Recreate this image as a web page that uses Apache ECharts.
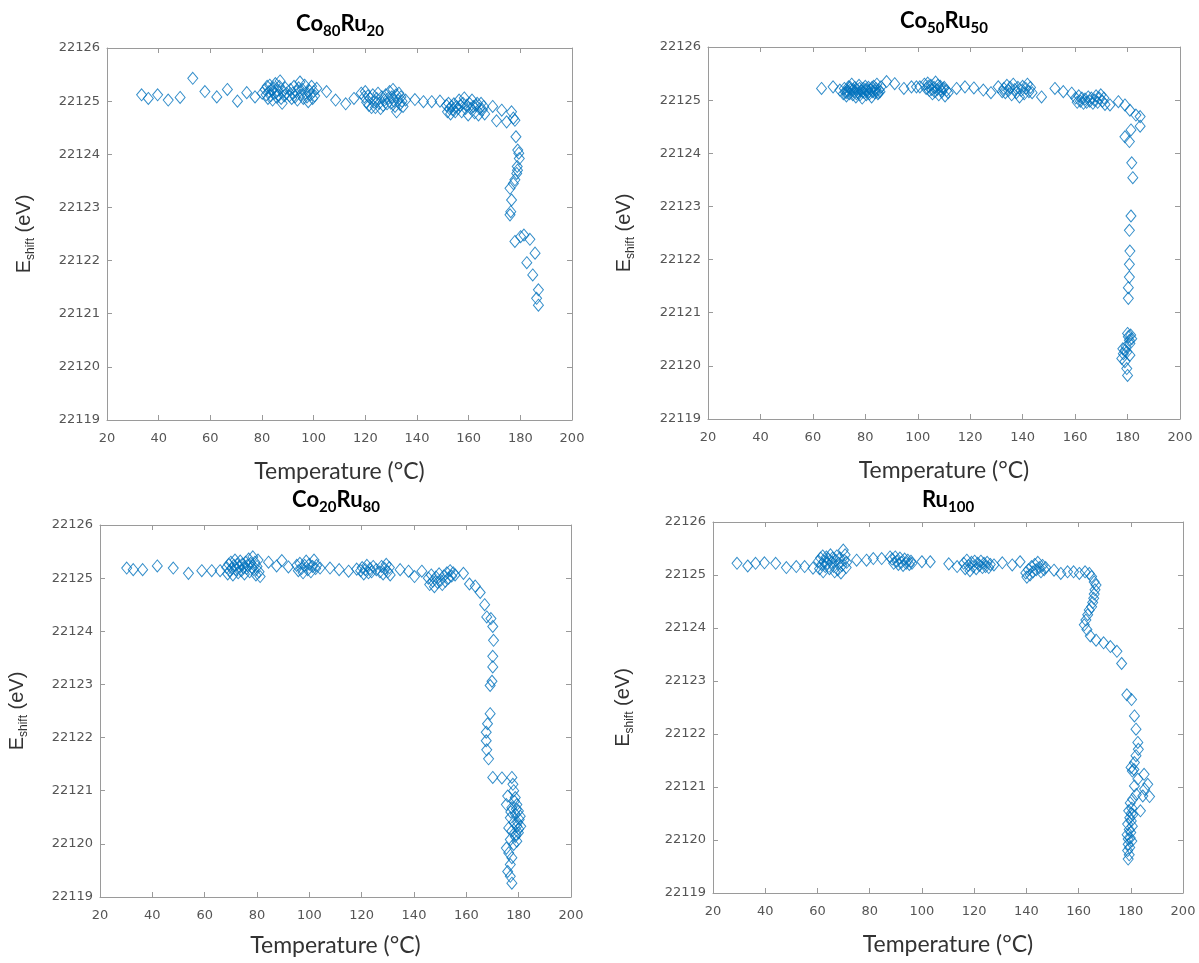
<!DOCTYPE html>
<html>
<head>
<meta charset="utf-8">
<script src="https://cdn.jsdelivr.net/npm/echarts@6/dist/echarts.min.js"></script>
<style>
  html, body { margin: 0; padding: 0; background: #ffffff; }
  #chart { width: 1199px; height: 963px; }
</style>
</head>
<body>
<div id="chart"></div>
<script>
// Axis ranges shared by all four panels
const tempTicks = [20, 40, 60, 80, 100, 120, 140, 160, 180, 200];
const energyTicks = [22119, 22120, 22121, 22122, 22123, 22124, 22125, 22126];

// Edge shift vs. temperature, [T (°C), E_shift (eV)]
const co80ru20 = [
  [33.4,22125.12],[36.0,22125.05],[39.6,22125.12],[43.7,22125.02],[48.3,22125.07],[53.2,22125.43],[57.9,22125.18],[62.5,22125.08],[66.6,22125.22],[70.5,22125.00],[74.1,22125.16],[77.3,22125.08],[80.1,22125.15],
  [81.2,22125.22],[81.6,22125.12],[82.0,22125.28],[82.3,22125.05],[82.7,22125.18],[83.0,22125.30],[83.4,22125.10],[83.8,22125.22],[84.1,22125.02],[84.5,22125.25],[84.9,22125.15],[85.2,22125.33],[85.6,22125.08],[86.0,22125.20],[86.3,22125.12],[86.7,22125.28],[87.0,22125.38],[87.4,22125.05],[87.8,22124.96],[88.2,22125.18],[88.6,22125.10],[89.0,22125.25],[89.4,22125.15],
  [90.6,22125.10],[91.0,22125.22],[91.5,22125.05],[91.9,22125.15],[92.4,22125.28],[92.8,22125.08],[93.3,22125.18],[93.7,22125.02],[94.2,22125.25],[94.7,22125.36],[95.1,22125.12],[95.6,22125.22],[96.0,22125.05],[96.5,22125.30],[96.9,22125.15],[97.4,22125.08],[97.9,22124.99],[98.3,22125.20],[98.8,22125.12],[99.2,22125.28],[99.6,22125.05],[100.0,22125.18],[100.4,22125.10],[101.2,22125.24],
  [105.0,22125.18],[108.5,22125.02],[112.4,22124.95],[115.6,22125.05],[118.4,22125.15],
  [119.6,22125.08],[120.0,22125.18],[120.5,22124.98],[121.0,22125.10],[121.4,22124.92],[121.9,22125.05],[122.4,22124.88],[122.9,22125.12],[123.4,22124.98],[123.9,22124.88],[124.4,22125.05],[124.9,22125.15],[125.4,22124.96],[125.9,22124.86],[126.4,22125.08],[126.9,22124.92],[127.4,22125.02],[127.9,22125.12],[128.4,22124.95],[128.9,22125.05],[129.4,22125.18],[129.9,22124.96],[130.3,22125.08],[130.7,22125.22],[131.1,22125.00],[131.5,22124.90],[131.9,22125.12],[132.1,22124.80],[132.6,22125.02],[133.0,22125.15],[133.4,22124.94],[133.8,22125.08],[134.2,22125.00],[134.6,22124.90],
  [135.6,22125.02],[139.2,22125.03],[142.5,22124.99],[145.7,22124.99],[148.9,22125.00],
  [151.4,22124.92],[151.8,22124.80],[152.2,22124.96],[152.6,22124.86],[153.0,22124.76],[153.4,22124.90],[153.8,22124.84],[154.3,22124.95],[154.8,22124.80],[155.3,22124.90],[155.8,22124.86],[156.3,22125.02],[156.8,22124.92],[157.3,22124.80],[157.8,22124.96],[158.3,22125.06],[158.8,22124.86],[159.3,22124.92],[159.8,22124.74],[160.3,22124.96],[160.8,22124.86],[161.3,22125.02],[161.8,22124.90],[162.3,22124.78],[162.8,22124.92],[163.3,22124.96],[163.8,22124.74],[164.3,22124.86],[164.8,22124.96],[165.3,22124.84],[165.8,22124.90],[166.2,22124.76],
  [169.3,22124.90],[170.8,22124.63],[172.8,22124.83],[174.7,22124.61],[176.6,22124.80],[177.3,22124.68],[177.9,22124.64],[178.3,22124.33],[179.0,22124.08],[179.4,22124.02],[179.6,22123.92],[178.8,22123.77],[178.9,22123.70],[178.6,22123.64],[177.9,22123.52],[177.3,22123.45],[176.0,22123.36],[176.6,22123.14],[176.3,22122.92],[176.0,22122.86],[177.9,22122.36],[180.1,22122.45],[181.4,22122.48],[183.7,22122.40],[182.5,22121.96],[185.7,22122.14],[184.8,22121.73],[187.0,22121.45],[186.3,22121.29],[187.0,22121.16]
];

const co50ru50 = [
  [63.3,22125.22],[67.7,22125.25],[70.3,22125.19],
  [71.6,22125.12],[72.0,22125.22],[72.4,22125.15],[72.8,22125.08],[73.2,22125.18],[73.6,22125.25],[74.0,22125.12],[74.4,22125.20],[74.8,22125.30],[75.2,22125.10],[75.6,22125.16],[76.0,22125.24],[76.4,22125.06],[76.8,22125.20],[77.2,22125.14],[77.6,22125.28],[78.0,22125.10],[78.4,22125.18],[78.8,22125.04],[79.2,22125.22],[79.6,22125.14],[80.0,22125.26],[80.4,22125.10],[80.8,22125.18],[81.2,22125.24],[81.6,22125.12],[82.0,22125.20],[82.4,22125.06],[82.8,22125.16],[83.2,22125.26],[83.6,22125.14],[84.0,22125.22],[84.4,22125.30],[84.8,22125.12],[85.2,22125.20],[85.6,22125.16],[86.0,22125.25],
  [73.0,22125.14],[74.2,22125.24],[75.4,22125.20],[76.6,22125.12],[77.8,22125.22],[79.0,22125.16],[80.2,22125.20],[81.4,22125.16],[82.6,22125.24],[83.8,22125.18],[85.0,22125.14],
  [88.1,22125.35],[91.2,22125.31],[94.7,22125.22],[97.6,22125.25],[99.5,22125.25],[100.8,22125.25],
  [102.5,22125.30],[103.2,22125.22],[103.8,22125.32],[104.4,22125.18],[105.0,22125.28],[105.6,22125.12],[106.2,22125.24],[106.8,22125.34],[107.4,22125.20],[108.0,22125.10],[108.6,22125.26],[109.2,22125.16],[109.8,22125.22],[110.4,22125.08],[111.0,22125.18],[111.6,22125.14],
  [104.0,22125.26],[105.3,22125.20],[106.5,22125.16],[107.7,22125.28],[108.9,22125.20],[110.1,22125.24],
  [114.8,22125.22],[118.0,22125.25],[121.4,22125.23],[125.0,22125.19],[127.9,22125.14],[130.7,22125.25],
  [132.2,22125.16],[132.8,22125.22],[133.4,22125.14],[134.0,22125.28],[134.6,22125.18],[135.2,22125.24],[135.8,22125.10],[136.4,22125.30],[137.0,22125.20],[137.6,22125.14],[138.2,22125.24],[138.8,22125.06],[139.4,22125.18],[140.0,22125.26],[140.6,22125.12],[141.2,22125.22],[141.8,22125.30],[142.4,22125.16],[143.0,22125.24],[143.6,22125.14],
  [147.2,22125.06],[152.3,22125.22],[155.5,22125.16],[158.7,22125.13],
  [160.2,22125.04],[160.8,22124.96],[161.4,22125.08],[162.0,22124.98],[162.6,22125.04],[163.2,22124.94],[163.8,22125.02],[164.4,22124.96],[165.0,22125.06],[165.6,22124.98],[166.2,22125.04],[166.8,22124.94],[167.4,22125.00],[168.0,22125.08],[168.6,22124.96],[169.2,22125.04],[169.8,22125.10],[170.4,22124.98],[171.0,22125.04],[171.4,22124.92],
  [173.3,22124.91],[176.5,22124.97],[179.0,22124.91],[180.9,22124.81],[183.2,22124.72],[184.8,22124.69],[184.8,22124.51],[181.3,22124.44],[179.0,22124.31],[180.7,22124.22],[181.6,22123.82],[182.0,22123.54],[181.3,22122.82],[180.7,22122.55],[180.9,22122.16],[180.7,22121.91],[180.7,22121.67],[180.3,22121.47],[180.3,22121.27],
  [180.0,22120.61],[181.2,22120.58],[180.3,22120.55],[181.6,22120.51],[180.7,22120.48],[180.9,22120.42],[179.4,22120.36],[178.2,22120.32],[179.0,22120.29],[179.7,22120.26],[178.4,22120.23],[180.9,22120.20],[177.8,22120.14],[179.0,22120.08],[179.7,22119.95],[180.0,22119.82]
];

const co20ru80 = [
  [30.2,22125.19],[32.7,22125.16],[36.3,22125.16],[41.9,22125.23],[48.0,22125.19],[53.8,22125.09],[58.9,22125.14],[62.7,22125.14],[65.9,22125.14],
  [68.4,22125.20],[68.8,22125.08],[69.2,22125.26],[69.6,22125.14],[70.0,22125.30],[70.4,22125.18],[70.8,22125.06],[71.2,22125.24],[71.6,22125.34],[72.0,22125.16],[72.4,22125.26],[72.8,22125.10],[73.2,22125.22],[73.6,22125.32],[74.0,22125.14],[74.4,22125.26],[74.8,22125.20],[75.2,22125.08],[75.6,22125.30],[76.0,22125.18],[76.4,22125.24],[76.8,22125.36],[77.2,22125.12],[77.6,22125.28],[78.0,22125.20],[78.4,22125.40],[78.8,22125.16],[79.2,22125.30],[79.6,22125.06],[80.0,22125.22],[80.4,22125.34],[80.8,22125.12],[81.2,22125.03],
  [84.4,22125.30],[87.5,22125.23],[89.5,22125.33],[92.0,22125.21],
  [95.2,22125.24],[95.8,22125.14],[96.4,22125.28],[97.0,22125.18],[97.6,22125.10],[98.2,22125.24],[98.8,22125.32],[99.4,22125.16],[100.0,22125.26],[100.6,22125.12],[101.2,22125.22],[101.8,22125.34],[102.4,22125.18],[102.8,22125.24],
  [104.1,22125.19],[107.9,22125.19],[111.4,22125.16],[115.0,22125.13],[118.1,22125.17],
  [119.6,22125.14],[120.2,22125.20],[120.8,22125.08],[121.4,22125.16],[122.0,22125.24],[122.6,22125.10],[123.2,22125.18],[123.8,22125.12],[124.4,22125.22],[125.6,22125.16],[127.0,22125.12],[127.6,22125.22],[128.2,22125.08],[128.8,22125.18],[129.4,22125.26],[130.0,22125.12],[130.6,22125.20],[130.9,22125.06],
  [134.7,22125.16],[137.9,22125.13],[140.2,22125.03],[143.0,22125.13],
  [145.5,22125.00],[146.0,22124.88],[146.6,22125.06],[147.2,22124.94],[147.8,22124.84],[148.4,22125.02],[149.0,22124.92],[149.6,22125.08],[150.2,22124.96],[150.8,22124.88],[151.4,22125.04],[152.0,22124.94],[152.6,22125.10],[153.2,22125.00],[153.8,22125.14],[154.4,22125.04],[155.0,22125.10],[155.7,22125.06],
  [158.9,22125.09],[161.2,22124.89],[163.4,22124.85],[165.3,22124.73],[167.0,22124.50],[167.8,22124.27],[169.4,22124.24],[170.1,22124.09],[170.4,22123.83],[170.1,22123.53],[170.1,22123.33],[169.8,22123.06],[169.1,22122.98],[169.1,22122.45],[168.1,22122.26],[167.6,22122.10],[167.6,22121.94],[167.8,22121.77],[168.5,22121.60],[170.1,22121.25],[173.6,22121.24],
  [177.4,22121.25],[177.8,22121.12],[178.1,22121.00],[178.7,22120.87],[175.8,22120.90],[175.3,22120.74],[179.3,22120.74],[178.4,22120.80],[177.4,22120.68],[179.1,22120.65],[179.9,22120.62],[177.0,22120.60],[178.7,22120.56],[180.6,22120.52],[176.8,22120.49],[180.2,22120.46],[178.1,22120.40],[179.6,22120.40],[179.3,22120.33],[180.8,22120.33],[176.2,22120.30],[180.0,22120.28],[177.4,22120.24],[179.9,22120.21],[179.0,22120.18],[178.7,22120.14],[176.8,22120.08],[179.3,22120.05],[178.1,22119.99],[175.3,22119.92],[176.2,22119.83],[177.4,22119.74],[176.8,22119.61],[175.8,22119.48],[176.8,22119.39],[177.4,22119.26]
];

const ru100 = [
  [29.2,22125.22],[33.3,22125.17],[36.3,22125.22],[39.7,22125.23],[44.0,22125.22],[48.1,22125.14],[51.9,22125.16],[55.1,22125.16],[58.3,22125.13],
  [60.4,22125.26],[60.8,22125.12],[61.2,22125.32],[61.6,22125.20],[62.0,22125.36],[62.2,22125.06],[62.6,22125.26],[63.0,22125.16],[63.4,22125.34],[63.8,22125.22],[64.2,22125.30],[64.6,22125.12],[65.0,22125.38],[65.4,22125.24],[65.8,22125.32],[66.2,22125.16],[66.6,22125.06],[67.0,22125.28],[67.4,22125.36],[67.8,22125.10],[68.2,22125.22],[68.6,22125.32],[69.0,22125.04],[69.4,22125.18],[69.9,22125.47],[70.2,22125.28],[70.6,22125.38],[71.0,22125.14],[71.2,22125.24],
  [75.0,22125.28],[78.8,22125.28],[81.4,22125.31],[84.6,22125.31],[87.8,22125.34],
  [88.6,22125.30],[89.2,22125.22],[89.8,22125.34],[90.4,22125.26],[91.0,22125.20],[91.6,22125.32],[92.2,22125.24],[92.8,22125.18],[93.4,22125.30],[94.0,22125.22],[94.6,22125.28],[95.2,22125.20],[95.8,22125.26],[96.2,22125.22],
  [100.0,22125.25],[103.2,22125.25],[110.3,22125.21],[113.5,22125.16],
  [116.0,22125.22],[116.6,22125.12],[117.2,22125.28],[117.8,22125.18],[118.4,22125.08],[119.0,22125.24],[119.6,22125.16],[120.2,22125.26],[120.8,22125.12],[121.4,22125.22],[122.0,22125.18],[122.6,22125.26],[123.2,22125.14],[123.8,22125.22],[124.4,22125.16],[125.0,22125.24],[125.6,22125.14],[126.2,22125.20],
  [127.6,22125.19],[130.8,22125.23],[134.6,22125.19],[137.6,22125.25],
  [139.8,22125.04],[140.2,22124.96],[140.8,22125.10],[141.4,22125.00],[142.0,22125.16],[142.6,22125.06],[143.2,22125.20],[143.8,22125.10],[144.4,22125.24],[145.0,22125.14],[145.6,22125.06],[146.2,22125.18],[146.8,22125.10],[147.4,22125.14],
  [150.6,22125.09],[153.2,22125.03],[155.8,22125.06],[158.1,22125.06],[160.3,22125.03],[162.5,22125.06],[164.1,22125.03],[165.0,22124.97],[166.0,22124.87],[166.7,22124.81],[166.3,22124.72],[166.0,22124.64],[165.8,22124.56],[165.4,22124.48],[165.0,22124.40],[164.1,22124.34],[163.5,22124.25],[162.8,22124.15],[162.2,22124.06],[163.2,22123.97],[164.5,22123.85],[166.7,22123.77],[169.6,22123.72],[172.2,22123.65],[174.7,22123.56],[176.5,22123.33],
  [178.5,22122.74],[180.3,22122.65],[181.4,22122.34],[182.0,22122.09],[182.7,22121.84],[182.9,22121.71],[182.0,22121.59],[181.4,22121.46],[181.2,22121.33],[180.1,22121.37],[180.6,22121.30],[185.1,22121.24],[182.7,22121.15],[186.5,22121.05],[185.3,22120.96],[187.2,22120.82],[184.6,22120.83],[183.7,22120.55],[181.4,22121.02],[180.7,22120.77],[182.1,22120.86],
  [179.8,22120.70],[180.4,22120.60],[179.2,22120.55],[180.2,22120.50],[180.8,22120.48],[179.6,22120.42],[180.2,22120.36],[178.8,22120.30],[180.6,22120.26],[179.4,22120.20],[180.0,22120.14],[178.6,22120.10],[179.8,22120.04],[179.0,22120.02],[180.4,22119.98],[179.0,22119.92],[179.6,22119.86],[178.8,22119.80],[179.4,22119.72],[179.0,22119.64]
];

// Panel layout: plot box, title position and label gaps
const panels = [
  { title: '{b|Co}{s|80}{b|Ru}{s|20}', data: co80ru20, box: { left: 107, top: 48, width: 465, height: 372 }, titleX: 340, titleY: 24, yGap: 70, xGap: 40 },
  { title: '{b|Co}{s|50}{b|Ru}{s|50}', data: co50ru50, box: { left: 708, top: 47, width: 472, height: 372 }, titleX: 944, titleY: 21, yGap: 71, xGap: 40 },
  { title: '{b|Co}{s|20}{b|Ru}{s|80}', data: co20ru80, box: { left: 100, top: 525, width: 471, height: 372 }, titleX: 336, titleY: 500, yGap: 70, xGap: 37 },
  { title: '{b|Ru}{s|100}',            data: ru100,    box: { left: 713, top: 522, width: 470, height: 371 }, titleX: 948, titleY: 500, yGap: 77, xGap: 40 }
];

const frameColor = '#9a9a9a';
const tickLabel = { color: '#555555', fontFamily: 'DejaVu Sans', fontSize: 13, formatter: v => String(v) };
const markerColor = '#0072BD';

const grids = [], xAxes = [], yAxes = [], series = [], graphics = [];

panels.forEach((p, i) => {
  grids.push(Object.assign({ containLabel: false, show: false }, p.box));

  const xBase = {
    gridIndex: i, type: 'value',
    min: tempTicks[0], max: tempTicks[tempTicks.length - 1], interval: tempTicks[1] - tempTicks[0],
    axisLine: { show: true, onZero: false, lineStyle: { color: frameColor, width: 1 } },
    axisTick: { show: true, inside: true, length: 5, lineStyle: { color: frameColor } },
    splitLine: { show: false }
  };
  xAxes.push(Object.assign({}, xBase, {
    position: 'bottom',
    axisLabel: Object.assign({ margin: 12, showMinLabel: true, showMaxLabel: true }, tickLabel),
    name: 'Temperature (°C)', nameLocation: 'middle', nameGap: p.xGap,
    nameTextStyle: { fontFamily: 'Lato', fontSize: 23, color: '#333333' }
  }));
  xAxes.push(Object.assign({}, xBase, { position: 'top', axisLabel: { show: false } }));

  const yBase = {
    gridIndex: i, type: 'value',
    min: energyTicks[0], max: energyTicks[energyTicks.length - 1], interval: energyTicks[1] - energyTicks[0],
    axisLine: { show: true, onZero: false, lineStyle: { color: frameColor, width: 1 } },
    axisTick: { show: true, inside: true, length: 5, lineStyle: { color: frameColor } },
    splitLine: { show: false }
  };
  yAxes.push(Object.assign({}, yBase, {
    position: 'left',
    axisLabel: Object.assign({ margin: 7, showMinLabel: true, showMaxLabel: true }, tickLabel),
    name: '{e|E}{s|shift}{e| (eV)}', nameLocation: 'middle', nameGap: p.yGap,
    nameTextStyle: {
      rich: {
        e: { fontFamily: 'Liberation Sans', fontSize: 20, color: '#333333', lineHeight: 26 },
        s: { fontFamily: 'Liberation Sans', fontSize: 12, color: '#333333', lineHeight: 14, verticalAlign: 'bottom' }
      }
    }
  }));
  yAxes.push(Object.assign({}, yBase, { position: 'right', axisLabel: { show: false } }));

  series.push({
    type: 'scatter',
    xAxisIndex: 2 * i, yAxisIndex: 2 * i,
    data: p.data,
    symbol: 'diamond', symbolSize: [10, 12],
    itemStyle: { color: 'rgba(255,255,255,0)', borderColor: markerColor, borderWidth: 1 },
    emphasis: { disabled: true },
    silent: true
  });

  graphics.push({
    type: 'text', x: p.titleX, y: p.titleY,
    style: {
      text: p.title, align: 'center', verticalAlign: 'middle',
      rich: {
        b: { fontFamily: 'Lato', fontWeight: 'bold', fontSize: 22, color: '#111111', lineHeight: 30 },
        s: { fontFamily: 'Lato', fontWeight: 'bold', fontSize: 15, color: '#111111', lineHeight: 16, verticalAlign: 'bottom' }
      }
    }
  });
});

const chart = echarts.init(document.getElementById('chart'), null, { renderer: 'canvas' });
chart.setOption({
  animation: false,
  backgroundColor: '#ffffff',
  grid: grids,
  xAxis: xAxes,
  yAxis: yAxes,
  series: series,
  graphic: graphics
});
</script>
</body>
</html>
